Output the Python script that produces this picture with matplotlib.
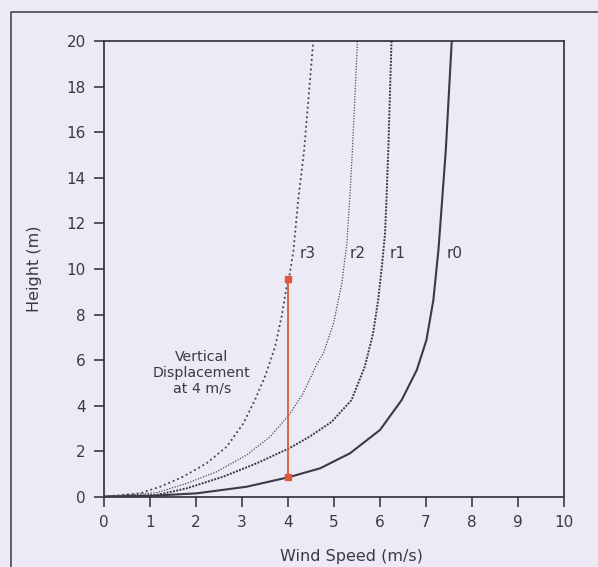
import matplotlib
matplotlib.use("Agg")
import matplotlib.pyplot as plt
from matplotlib.lines import Line2D

# ---- data ----
r0_speed  = [0.0, 1.0, 2.01, 3.10, 4.02, 4.70, 5.35, 6.00, 6.47, 6.80, 7.01, 7.16, 7.27, 7.35, 7.43, 7.56]
r0_height = [0.02, 0.05, 0.16, 0.45, 0.87, 1.26, 1.92, 2.94, 4.25, 5.57, 6.89, 8.64, 10.83, 13.0, 15.2, 20.0]

r1_speed  = [0.0, 1.15, 1.80, 2.59, 3.32, 4.02, 4.48, 4.95, 5.38, 5.67, 5.85, 5.96, 6.04, 6.11, 6.14, 6.18, 6.25]
r1_height = [0.02, 0.09, 0.38, 0.89, 1.48, 2.13, 2.66, 3.3, 4.25, 5.72, 7.18, 8.64, 10.1, 11.57, 13.0, 15.2, 20.0]

r2_speed  = [0.0, 1.15, 1.80, 2.45, 3.10, 3.61, 4.03, 4.33, 4.62, 4.77, 4.99, 5.17, 5.28, 5.34, 5.40, 5.51]
r2_height = [0.02, 0.19, 0.6, 1.11, 1.84, 2.64, 3.62, 4.55, 5.8, 6.3, 7.62, 9.37, 11.13, 13.0, 15.2, 20.0]

r3_speed  = [0.0, 0.78, 1.22, 1.72, 2.23, 2.67, 3.03, 3.28, 3.50, 3.72, 3.86, 3.97, 4.02, 4.12, 4.22, 4.35, 4.55]
r3_height = [0.02, 0.16, 0.45, 0.89, 1.48, 2.21, 3.23, 4.25, 5.28, 6.59, 7.91, 9.22, 9.55, 10.83, 13.0, 15.2, 20.0]

curve_labels = ["r3", "r2", "r1", "r0"]
label_x = [4.25, 5.35, 6.2, 7.45]
label_y = 10.7

disp_speed = [4.0, 4.0]
disp_height = [0.86, 9.55]

x_ticks = list(range(0, 11))
y_ticks = list(range(0, 21, 2))

# ---- style ----
bg = "#ECEBF5"
ink = "#3b3945"
red = "#E4573D"

plt.rcParams['font.family'] = ['DejaVu Sans']

fig = plt.figure(figsize=(5.98, 5.67), dpi=100, facecolor=bg)
ax = fig.add_axes([104/598, 70/567, 460/598, 456/567])
ax.set_facecolor(bg)

ax.plot(r0_speed, r0_height, color=ink, lw=1.5, ls='-', solid_joinstyle='round')
ax.plot(r1_speed, r1_height, color=ink, lw=1.4, ls=(0, (1, 0.7)))
ax.plot(r2_speed, r2_height, color="#4a4860", lw=0.9, ls=(0, (1, 1.2)))
ax.plot(r3_speed, r3_height, color="#4a4860", lw=1.5, ls=(0, (0.1, 2.2)),
        dash_capstyle='round')

ax.plot(disp_speed, disp_height, color=red, lw=1.3, marker='s', ms=4.5,
        markeredgecolor=red, markerfacecolor=red)

for lab, lx in zip(curve_labels, label_x):
    ax.text(lx, label_y, lab, fontsize=11, color=ink, ha='left', va='center')

ax.text(2.13, 5.45, "Vertical\nDisplacement\nat 4 m/s", fontsize=10.2,
        color=ink, ha='center', va='center', linespacing=1.2)

ax.set_xlim(0, 10)
ax.set_ylim(0, 20)
ax.set_xticks(x_ticks)
ax.set_yticks(y_ticks)
ax.tick_params(direction='out', length=7, width=1.2, color=ink,
               labelcolor=ink, labelsize=11, pad=6, top=False, right=False)
for s in ax.spines.values():
    s.set_color(ink)
    s.set_linewidth(1.3)

ax.set_xlabel("Wind Speed (m/s)", fontsize=11.5, color=ink)
ax.set_ylabel("Height (m)", fontsize=11.5, color=ink)
ax.xaxis.set_label_coords(0.537, -0.115)
ax.yaxis.set_label_coords(-0.135, 0.5)

# scanned frame around the figure
fx = 11/598
fy = 1 - 12/567
fig.add_artist(Line2D([fx, fx, 1.05], [-0.05, fy, fy], transform=fig.transFigure,
                      color="#4a4652", lw=1.2))

fig.savefig("out.png", dpi=100, facecolor=bg)
